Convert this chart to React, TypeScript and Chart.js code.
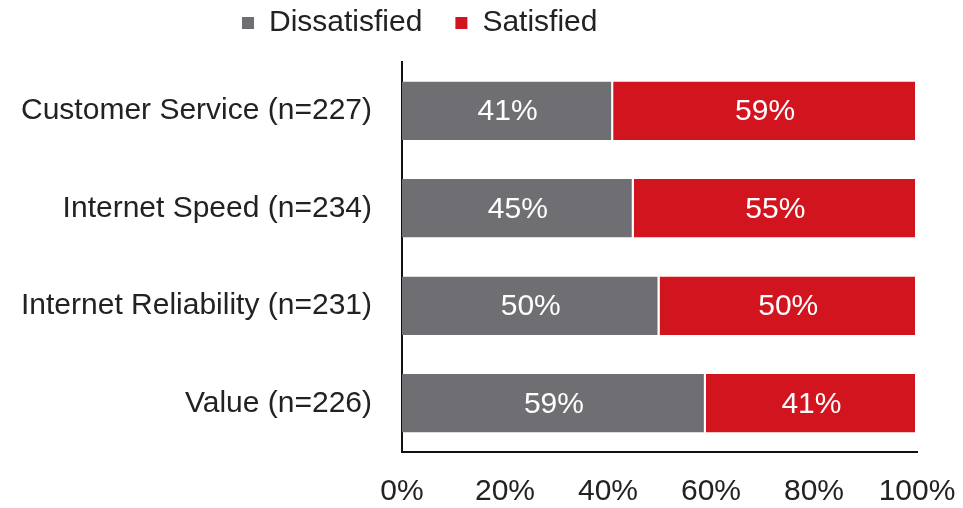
import React, { useEffect, useRef } from "react";
import { Chart, registerables } from "chart.js";

Chart.register(...registerables);

const categories = [
  "Customer Service (n=227)",
  "Internet Speed (n=234)",
  "Internet Reliability (n=231)",
  "Value (n=226)",
];
const seriesNames = ["Dissatisfied", "Satisfied"];
const dissatisfied = [41, 45, 50, 59];
const satisfied = [59, 55, 50, 41];
const xTicks = [0, 20, 40, 60, 80, 100];

const GRAY = "#6f6e73";
const RED = "#d2141e";
const TEXT = "#222222";
const FONT = "'Liberation Sans', Arial, sans-serif";

const legendShift = {
  id: "legendShift",
  afterLayout(chart: any) {
    const lg = chart.legend;
    if (!lg) return;
    const dx = 209 - lg.left;
    const dy = -14;
    lg.left += dx;
    lg.right += dx;
    lg.top += dy;
    lg.bottom += dy;
  },
};

const barLabels = {
  id: "barLabels",
  afterDatasetsDraw(chart: any) {
    const ctx = chart.ctx;
    ctx.save();
    ctx.font = `30px ${FONT}`;
    ctx.fillStyle = "#ffffff";
    ctx.textAlign = "center";
    ctx.textBaseline = "middle";
    chart.data.datasets.forEach((ds: any, di: number) => {
      const meta = chart.getDatasetMeta(di);
      meta.data.forEach((el: any, i: number) => {
        const v = ds.data[i];
        const cx = (el.x + el.base) / 2;
        ctx.fillText(`${v}%`, cx, el.y + 1);
      });
    });
    ctx.restore();
  },
};

export default function App() {
  const ref = useRef<HTMLCanvasElement | null>(null);

  useEffect(() => {
    document.body.style.margin = "0";
    if (!ref.current) return;
    Chart.defaults.font.family = FONT;
    const chart = new Chart(ref.current, {
      type: "bar",
      data: {
        labels: categories,
        datasets: [
          {
            label: seriesNames[0],
            data: dissatisfied,
            backgroundColor: GRAY,
            borderColor: "#ffffff",
            borderWidth: { right: 2 } as any,
          },
          {
            label: seriesNames[1],
            data: satisfied,
            backgroundColor: RED,
            borderColor: "#ffffff",
            borderWidth: { right: 2 } as any,
          },
        ],
      },
      options: {
        indexAxis: "y",
        responsive: false,
        animation: false,
        devicePixelRatio: 1,
        layout: { padding: { top: -11, right: 46, left: 0, bottom: -24 } },
        datasets: { bar: { categoryPercentage: 1, barPercentage: 0.6 } },
        scales: {
          x: {
            stacked: true,
            min: 0,
            max: 100,
            afterBuildTicks: (s: any) => {
              s.ticks = xTicks.map((v) => ({ value: v }));
            },
            afterFit: (s: any) => {
              s.paddingLeft = 0;
              s.paddingRight = 0;
            },
            grid: { display: false, drawTicks: false },
            border: { display: true, color: "#111111", width: 2 },
            ticks: {
              padding: 22,
              color: TEXT,
              font: { size: 30, family: FONT },
              maxRotation: 0,
              autoSkip: false,
              callback: (v: any) => `${v}%`,
            },
          },
          y: {
            stacked: true,
            grid: { display: false, drawTicks: false },
            border: { display: true, color: "#111111", width: 2 },
            afterFit: (s: any) => {
              s.width = 402;
              s.paddingTop = 0;
              s.paddingBottom = 0;
            },
            ticks: {
              padding: 30,
              color: TEXT,
              font: { size: 30, family: FONT },
              autoSkip: false,
            },
          },
        },
        plugins: {
          tooltip: { enabled: false },
          legend: {
            display: true,
            position: "top",
            align: "start",
            labels: {
              boxWidth: 12,
              boxHeight: 12,
              padding: 33,
              color: TEXT,
              font: { size: 30, family: FONT },
              generateLabels: (c: any) =>
                Chart.defaults.plugins.legend.labels
                  .generateLabels(c)
                  .map((l: any) => ({ ...l, lineWidth: 0 })),
            },
          },
        },
      },
      plugins: [legendShift, barLabels],
    });
    return () => chart.destroy();
  }, []);

  return (
    <div style={{ width: 963, height: 508, background: "#fff" }}>
      <canvas ref={ref} width={963} height={508} />
    </div>
  );
}
